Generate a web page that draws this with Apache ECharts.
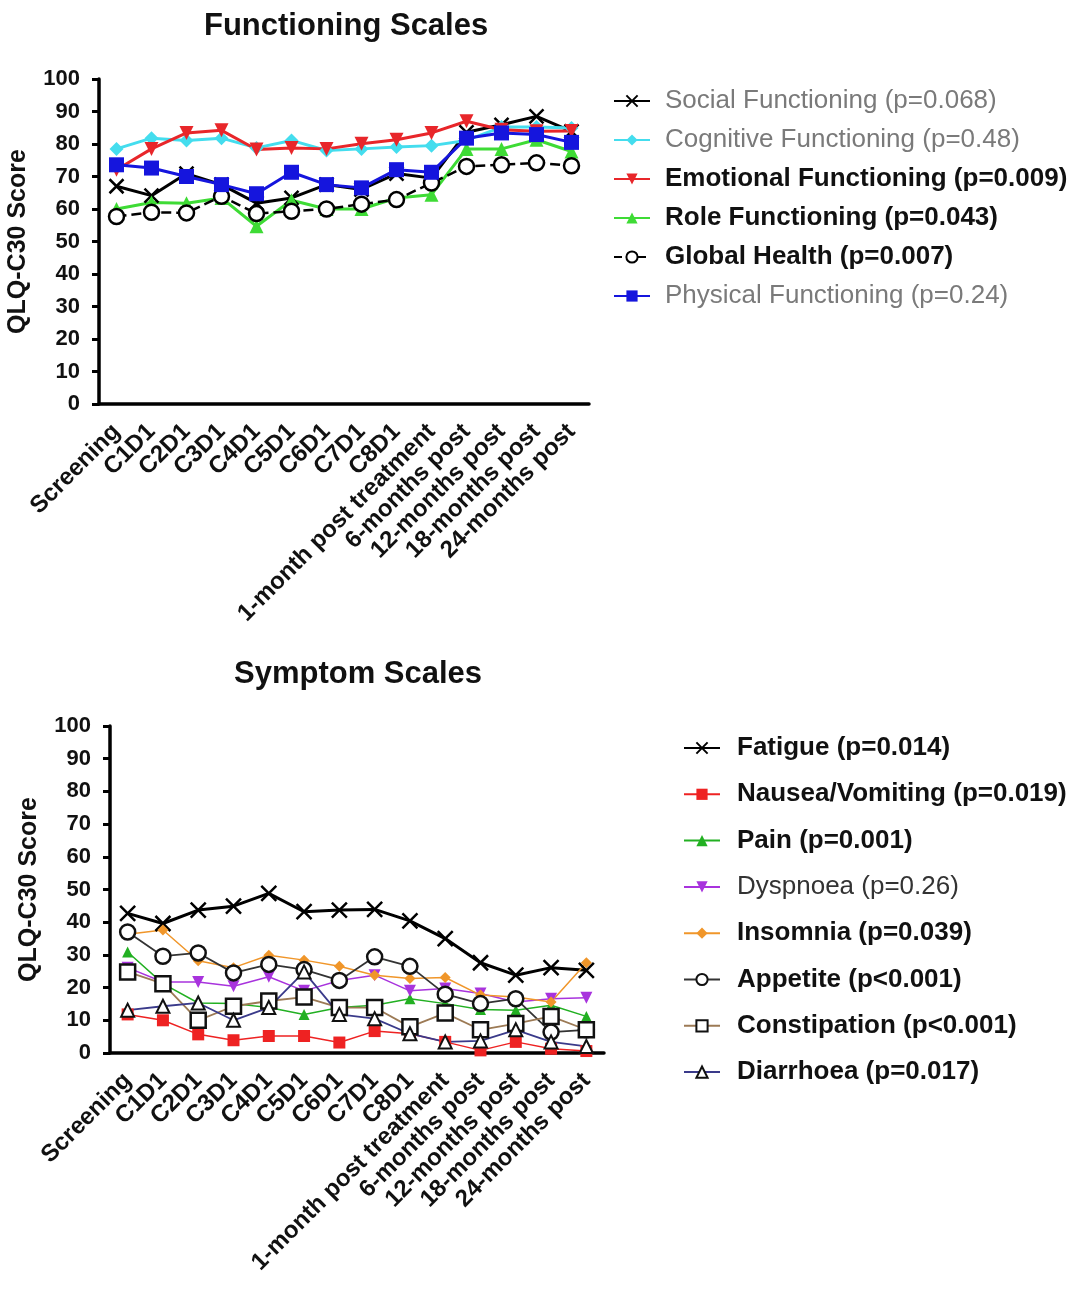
<!DOCTYPE html>
<html><head><meta charset="utf-8">
<script src="https://cdn.jsdelivr.net/npm/echarts@6/dist/echarts.min.js"></script>
<style>html,body{margin:0;padding:0;background:#fff}#c{width:1080px;height:1298px}</style>
</head><body><div id="c"></div>
<script>
const categories = ['Screening','C1D1','C2D1','C3D1','C4D1','C5D1','C6D1','C7D1','C8D1','1-month post treatment','6-months post','12-months post','18-months post','24-months post'];
const yTicks = [0,10,20,30,40,50,60,70,80,90,100];

// Functioning scales
const social    = [67.0,64.1,70.9,67.5,61.8,63.4,67.5,66.0,70.9,69.5,83.6,85.9,88.5,83.9];
const cognitive = [78.5,81.8,81.1,81.8,78.8,81.1,78.0,78.5,79.1,79.5,81.1,85.2,85.2,84.9];
const emotional = [72.1,78.5,83.4,84.2,78.3,78.8,78.5,80.1,81.3,83.4,87.0,84.4,83.9,84.0];
const role      = [60.0,62.0,61.8,63.4,54.7,62.7,60.0,60.0,63.4,64.4,78.5,78.5,81.3,77.7];
const globalH   = [57.7,59.0,58.8,63.9,58.6,59.3,60.0,61.5,62.9,68.0,73.1,73.6,74.2,73.3];
const physical  = [73.6,72.6,70.0,67.5,64.7,71.3,67.5,66.5,72.1,71.3,81.8,83.4,82.9,80.5];

// Symptom scales
const fatigue      = [42.7,39.6,43.7,44.9,48.8,43.2,43.7,43.9,40.4,35.0,27.6,23.8,26.1,25.3];
const nausea       = [11.8,10.0,5.7,3.9,5.2,5.2,3.2,6.7,5.9,3.4,0.8,3.4,1.3,0.6];
const pain         = [30.9,21.2,15.3,15.1,13.9,11.8,13.9,14.6,16.6,15.1,13.3,13.1,14.6,11.2];
const dyspnoea     = [26.1,21.7,21.7,20.4,23.3,19.0,22.2,23.8,19.0,19.7,18.2,15.6,16.6,16.9];
const insomnia     = [36.3,37.6,28.2,26.1,29.9,28.4,26.5,23.8,22.8,23.1,17.7,17.1,15.6,27.6];
const appetite     = [37.0,29.6,30.6,24.5,27.1,25.5,22.2,29.4,26.5,18.0,15.1,16.6,6.4,7.1];
const constipation = [24.8,21.2,10.0,14.3,15.9,17.1,13.9,13.9,8.0,12.2,7.1,9.0,11.2,7.1];
const diarrhoea    = [13.1,14.3,15.3,10.0,13.9,24.8,11.8,10.5,5.9,3.4,3.7,7.1,3.4,2.0];

const topNames = ['Social Functioning (p=0.068)','Cognitive Functioning (p=0.48)','Emotional Functioning (p=0.009)','Role Functioning (p=0.043)','Global Health (p=0.007)','Physical Functioning (p=0.24)'];
const topBold = [false,false,true,true,true,false];
const botNames = ['Fatigue (p=0.014)','Nausea/Vomiting (p=0.019)','Pain (p=0.001)','Dyspnoea (p=0.26)','Insomnia (p=0.039)','Appetite (p<0.001)','Constipation (p<0.001)','Diarrhoea (p=0.017)'];
const botBold = [true,true,true,false,true,true,true,true];

const FONT = 'Liberation Sans, Arial, sans-serif';
const X_SYM = 'path://M0,0L10,10M10,0L0,10';

function xAx(gi){
  return {type:'category', gridIndex:gi, data:categories, boundaryGap:true,
    axisLine:{lineStyle:{color:'#000',width:3.5}},
    axisTick:{alignWithLabel:true,length:7,lineStyle:{color:'#000',width:3}},
    axisLabel:{rotate:45,interval:0,margin:24,color:'#111',fontFamily:FONT,fontWeight:'bold',fontSize:24}};
}
function yAx(gi){
  return {type:'value', gridIndex:gi, min:0, max:100, interval:10,
    name:'QLQ-C30 Score', nameLocation:'middle', nameGap:68, nameRotate:90,
    nameTextStyle:{color:'#111',fontFamily:FONT,fontWeight:'bold',fontSize:25},
    splitLine:{show:false},
    axisLine:{show:true,lineStyle:{color:'#000',width:3.5}},
    axisTick:{show:true,length:7,lineStyle:{color:'#000',width:3}},
    axisLabel:{margin:19,color:'#111',fontFamily:FONT,fontWeight:'bold',fontSize:22,
      formatter:v=>yTicks.includes(v)?String(v):''}};
}
function ser(name, data, gi, color, symbol, size, opts){
  opts = opts||{};
  return {
    name, type:'line', data, xAxisIndex:gi, yAxisIndex:gi,
    symbol, symbolSize:size, symbolRotate:opts.rot||0,
    lineStyle:{color:opts.lineColor||color, width:opts.lw||3, type:opts.dash?'dashed':'solid'},
    itemStyle:{color:opts.fill||color, borderColor:opts.border||color, borderWidth:opts.bw||0},
    emphasis:{disabled:true}, animation:false
  };
}
function legendFmt(names,bolds){
  return function(n){ const i=names.indexOf(n); return (bolds[i]?'{b|':'{n|')+n+'}'; };
}

const series = [
  ser(topNames[0], social, 0, '#000', X_SYM, 14, {bw:2.5, fill:'#000', border:'#000'}),
  ser(topNames[1], cognitive, 0, '#44DDEE', 'diamond', 14),
  ser(topNames[2], emotional, 0, '#E8262A', 'triangle', 14, {rot:180}),
  ser(topNames[3], role, 0, '#3EDB35', 'triangle', 14),
  ser(topNames[4], globalH, 0, '#000', 'circle', 15, {dash:true, fill:'#fff', border:'#000', bw:2.5, lw:2.5}),
  ser(topNames[5], physical, 0, '#1515DD', 'rect', 15),

  ser(botNames[0], fatigue, 1, '#000', X_SYM, 15, {bw:2.5, fill:'#000', border:'#000', lw:3}),
  ser(botNames[1], nausea, 1, '#EE2222', 'rect', 12, {lw:1.5}),
  ser(botNames[2], pain, 1, '#22B022', 'triangle', 11, {lw:1.5}),
  ser(botNames[3], dyspnoea, 1, '#A833DD', 'triangle', 12, {rot:180, lw:1.5}),
  ser(botNames[4], insomnia, 1, '#F0962A', 'diamond', 11, {lw:1.5}),
  ser(botNames[5], appetite, 1, '#333', 'circle', 15, {fill:'#fff', border:'#111', bw:2.5, lw:1.8}),
  ser(botNames[6], constipation, 1, '#9C7A55', 'rect', 15, {fill:'#fff', border:'#111', bw:2.5, lw:1.8}),
  ser(botNames[7], diarrhoea, 1, '#3A3A8A', 'triangle', 13, {fill:'#fff', border:'#111', bw:2, lw:1.8}),
];

const chart = echarts.init(document.getElementById('c'), null, {renderer:'canvas'});
chart.setOption({
  backgroundColor:'#fff',
  animation:false,
  title:[
    {text:'Functioning Scales', left:199, top:6, textStyle:{fontFamily:FONT,fontWeight:'bold',fontSize:31,color:'#111'}},
    {text:'Symptom Scales', left:229, top:654, textStyle:{fontFamily:FONT,fontWeight:'bold',fontSize:31,color:'#111'}}
  ],
  grid:[
    {left:99, top:79, width:490, height:325, containLabel:false},
    {left:110, top:726, width:494, height:327, containLabel:false}
  ],
  xAxis:[xAx(0), xAx(1)],
  yAxis:[yAx(0), yAx(1)],
  legend:[
    {data:topNames, orient:'vertical', left:608, top:83, itemWidth:36, itemHeight:14, itemGap:13,
     selectedMode:false, formatter:legendFmt(topNames,topBold),
     textStyle:{fontFamily:FONT, fontSize:26, lineHeight:26, padding:[0,0,0,10],
       rich:{b:{fontFamily:FONT,fontSize:26,fontWeight:'bold',color:'#111'}, n:{fontFamily:FONT,fontSize:26,color:'#7a7a7a'}}}},
    {data:botNames, orient:'vertical', left:678, top:730, itemWidth:36, itemHeight:14, itemGap:20.3,
     selectedMode:false, formatter:legendFmt(botNames,botBold),
     textStyle:{fontFamily:FONT, fontSize:26, lineHeight:26, padding:[0,0,0,12],
       rich:{b:{fontFamily:FONT,fontSize:26,fontWeight:'bold',color:'#111'}, n:{fontFamily:FONT,fontSize:26,color:'#333'}}}}
  ],
  series
});
</script></body></html>
